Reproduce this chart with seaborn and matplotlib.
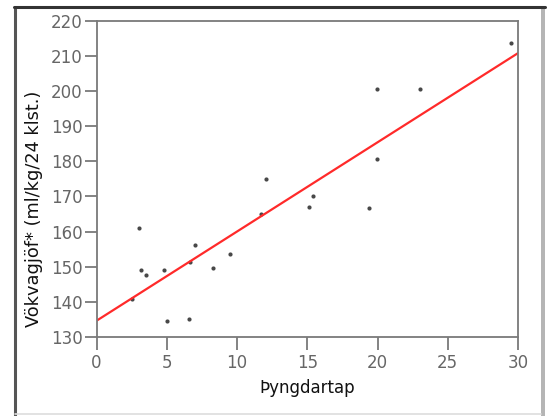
import matplotlib
matplotlib.use("Agg")
import matplotlib.pyplot as plt
import seaborn as sns
import pandas as pd
from matplotlib.patches import Rectangle
from matplotlib.lines import Line2D

# Data
weight_loss = [2.51, 3.05, 3.15, 3.55, 4.79, 5.04, 6.6, 6.68, 7.03, 8.27,
               9.51, 11.7, 12.04, 15.15, 15.42, 19.39, 19.99, 19.99, 23.04, 29.5]
fluid_need = [140.8, 161.1, 149.1, 147.6, 149.1, 134.6, 135.1, 151.4, 156.05, 149.6,
              153.6, 165.0, 175.0, 167.1, 170.2, 166.6, 200.5, 180.6, 200.5, 213.6]
x_ticks = [0, 5, 10, 15, 20, 25, 30]
y_ticks = [130, 140, 150, 160, 170, 180, 190, 200, 210, 220]
x_label = "Þyngdartap"
y_label = "Vökvagjöf* (ml/kg/24 klst.)"

df = pd.DataFrame({"x": weight_loss, "y": fluid_need})

sns.set_style("white")
plt.rcParams["font.family"] = ["DejaVu Sans"]

W, H = 548, 416
fig = plt.figure(figsize=(W / 100, H / 100), dpi=100)
ax = fig.add_axes([96.5 / W, 1 - 337 / H, (518 - 96.5) / W, (337 - 20.7) / H])

ax.set_xlim(0, 30)
ax.set_ylim(130, 220)

sns.regplot(data=df, x="x", y="y", ax=ax, ci=None, truncate=False,
            scatter_kws=dict(s=9, marker="s", color="#1a1a1a", linewidths=0),
            line_kws=dict(color="#ff2a2a", lw=1.6))

ax.set_xlim(0, 30)
ax.set_ylim(130, 220)
ax.set_xticks(x_ticks)
ax.set_yticks(y_ticks)

for s in ax.spines.values():
    s.set_color("#7a7a7a")
    s.set_linewidth(1.3)
ax.tick_params(axis="both", which="major", direction="out", length=9,
               width=1.3, color="#7a7a7a", labelcolor="#666666",
               labelsize=12, pad=1, left=True, bottom=True)
ax.tick_params(axis="x", pad=3)

ax.set_xlabel(x_label, fontsize=12, color="#111111", labelpad=5)
ax.set_ylabel(y_label, fontsize=12.8, color="#111111")
ax.yaxis.set_label_coords(-0.128, 0.405)

# Figure frame
fig.add_artist(Line2D([14.5 / W, 14.5 / W], [0, 1 - 7 / H], transform=fig.transFigure,
                      color="#555555", lw=2.2))
fig.add_artist(Line2D([13.5 / W, 545 / W], [1 - 7 / H, 1 - 7 / H], transform=fig.transFigure,
                      color="#333333", lw=2.2))
fig.add_artist(Rectangle((540.5 / W, 0), 4.5 / W, 1 - 7 / H, transform=fig.transFigure,
                         facecolor="#b5b5b5", edgecolor="none"))
fig.add_artist(Line2D([15 / W, 541 / W], [1 - 414 / H, 1 - 414 / H], transform=fig.transFigure,
                      color="#dddddd", lw=1.2))

fig.savefig("out.png", dpi=100)
